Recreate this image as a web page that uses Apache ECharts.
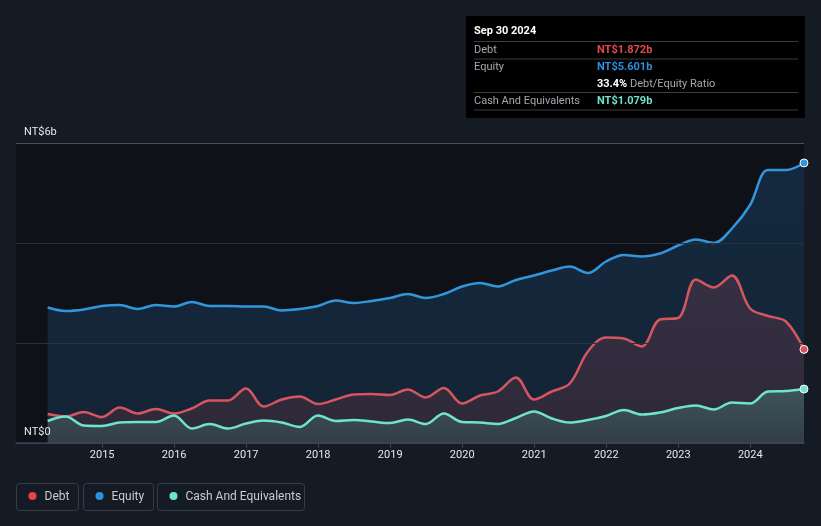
<!DOCTYPE html>
<html>
<head>
<meta charset="utf-8">
<script src="https://cdn.jsdelivr.net/npm/echarts@6/dist/echarts.min.js"></script>
<style>
  html, body { margin: 0; padding: 0; background: #151b25; }
  #chart_01 { width: 821px; height: 526px; }
</style>
</head>
<body>
<div id="chart_01"></div>
<script>
// quarter ends, Mar 2014 .. Sep 2024
var quarterEnds = [];
(function () {
    var md = ['-03-31', '-06-30', '-09-30', '-12-31'];
    for (var y = 2014; y <= 2024; y++) {
        for (var q = 0; q < 4; q++) {
            if (y === 2024 && q > 2) break;
            quarterEnds.push(y + md[q]);
        }
    }
})();

// NT$ billions
var debt = [0.58, 0.53, 0.62, 0.52, 0.71, 0.59, 0.68, 0.59, 0.69, 0.85, 0.85, 1.09, 0.73, 0.87, 0.93,
    0.78, 0.87, 0.97, 0.98, 0.96, 1.07, 0.91, 1.10, 0.79, 0.95, 1.03, 1.31, 0.87, 1.03, 1.19,
    1.83, 2.11, 2.09, 1.93, 2.47, 2.50, 3.27, 3.11, 3.35, 2.69, 2.54, 2.43, 1.872];
var equity = [2.71, 2.64, 2.67, 2.74, 2.76, 2.68, 2.76, 2.73, 2.82, 2.74, 2.74, 2.73, 2.73, 2.65, 2.68,
    2.74, 2.85, 2.80, 2.84, 2.90, 2.98, 2.90, 2.98, 3.13, 3.20, 3.13, 3.26, 3.35, 3.45, 3.53,
    3.40, 3.63, 3.76, 3.73, 3.79, 3.95, 4.07, 4.00, 4.29, 4.76, 5.46, 5.46, 5.601];
var cash = [0.44, 0.53, 0.35, 0.34, 0.41, 0.42, 0.42, 0.55, 0.29, 0.38, 0.29, 0.39, 0.45, 0.41, 0.32,
    0.55, 0.44, 0.46, 0.43, 0.40, 0.47, 0.38, 0.59, 0.42, 0.41, 0.38, 0.50, 0.63, 0.49, 0.41,
    0.46, 0.54, 0.66, 0.57, 0.61, 0.70, 0.75, 0.67, 0.81, 0.79, 1.03, 1.04, 1.079];
var yearTicks = [2015, 2016, 2017, 2018, 2019, 2020, 2021, 2022, 2023, 2024];

;(function (window) {

    initChart();

    function decYear(s) {
        var d = new Date(s + 'T00:00:00Z');
        var y = d.getUTCFullYear();
        var start = Date.UTC(y, 0, 1), end = Date.UTC(y + 1, 0, 1);
        return y + (d.getTime() - start) / (end - start);
    }

    function pairs(vals, color) {
        return vals.map(function (v, i) {
            var item = { value: [decYear(quarterEnds[i]), v] };
            if (i === vals.length - 1) {
                item.symbol = 'circle';
                item.symbolSize = 8;
                item.itemStyle = { color: color, borderColor: '#ffffff', borderWidth: 1 };
            }
            return item;
        });
    }

    function makeSeries(name, vals, color, areaTop, areaBottom) {
        return {
            name: name,
            type: 'line',
            data: pairs(vals, color),
            smooth: 0.35,
            symbol: 'none',
            showSymbol: true,
            lineStyle: { color: color, width: 2.5 },
            itemStyle: { color: color },
            areaStyle: {
                color: new echarts.graphic.LinearGradient(0, 0, 0, 1, [
                    { offset: 0, color: areaTop },
                    { offset: 1, color: areaBottom }
                ])
            },
            z: 2
        };
    }

    function legendBox(x, w, color, label) {
        return {
            type: 'group',
            left: x, top: 483,
            children: [
                { type: 'rect', shape: { x: 0, y: 0, width: w, height: 27, r: 3 },
                  style: { fill: 'transparent', stroke: '#363d49', lineWidth: 1 } },
                { type: 'circle', shape: { cx: 16, cy: 12.5, r: 4 }, style: { fill: color } },
                { type: 'text', x: 28, y: 13,
                  style: { text: label, fill: '#c8ccd2', font: '12px Roboto', verticalAlign: 'middle' } }
            ]
        };
    }

    function row(y, label, value, color, line) {
        var arr = [];
        if (label) arr.push({ type: 'text', x: 474, y: y,
            style: { text: label, fill: '#a4a8ae', font: '11px Roboto', verticalAlign: 'middle' } });
        arr.push({ type: 'text', x: 597, y: y,
            style: { text: value, fill: color, font: 'bold 11px Roboto', verticalAlign: 'middle' } });
        if (line) arr.push({ type: 'line', shape: { x1: 474, y1: y + 9, x2: 798, y2: y + 9 },
            style: { stroke: '#3a3d42', lineWidth: 1 } });
        return arr;
    }

    function initChart() {
        var myChart_01 = echarts.init(document.getElementById('chart_01'));

        var tip = [
            { type: 'rect', shape: { x: 466, y: 16, width: 339, height: 102 }, style: { fill: '#000000' } },
            { type: 'text', x: 474, y: 31,
              style: { text: 'Sep 30 2024', fill: '#ffffff', font: 'bold 11px Roboto', verticalAlign: 'middle' } },
            { type: 'line', shape: { x1: 474, y1: 41.5, x2: 798, y2: 41.5 }, style: { stroke: '#3a3d42', lineWidth: 1 } }
        ];
        tip = tip.concat(row(50, 'Debt', 'NT$1.872b', '#e5484d', true));
        tip = tip.concat(row(67, 'Equity', 'NT$5.601b', '#2d8fe0', false));
        tip.push({ type: 'text', x: 597, y: 84,
            style: { text: '{b|33.4%} Debt/Equity Ratio', fill: '#a4a8ae', font: '11px Roboto', verticalAlign: 'middle',
                rich: { b: { fill: '#ffffff', font: 'bold 11px Roboto' } } } });
        tip.push({ type: 'line', shape: { x1: 474, y1: 92.5, x2: 798, y2: 92.5 }, style: { stroke: '#3a3d42', lineWidth: 1 } });
        tip = tip.concat(row(101, 'Cash And Equivalents', 'NT$1.079b', '#6ee3cf', true));

        var options = {
            backgroundColor: '#151b25',
            animation: false,
            grid: {
                left: 16, right: 17, top: 143, bottom: 83,
                show: true, borderWidth: 0,
                backgroundColor: '#0e1218'
            },
            xAxis: {
                type: 'value',
                min: 2013.804,
                max: 2024.746,
                axisLine: { show: true, lineStyle: { color: '#3a414c', width: 1.5 } },
                axisTick: { show: true, customValues: yearTicks, length: 5, lineStyle: { color: '#3a414c' } },
                splitLine: { show: false },
                axisLabel: {
                    customValues: yearTicks,
                    color: '#e6e8eb', fontSize: 11, fontFamily: 'Roboto', margin: 7,
                    formatter: function (v) { return String(Math.round(v)); }
                }
            },
            yAxis: {
                type: 'value',
                min: 0, max: 6, interval: 2,
                axisLine: { show: false },
                axisTick: { show: false },
                splitLine: { lineStyle: { color: ['#3a414c', '#2c323b', '#2c323b', '#4a5058'], width: 1 } },
                axisLabel: {
                    inside: true,
                    margin: 8,
                    verticalAlign: 'bottom',
                    padding: [0, 0, 5, 0],
                    color: '#e6e8eb', fontSize: 11, fontFamily: 'Roboto',
                    formatter: function (v) {
                        if (v === 6) return 'NT$6b';
                        if (v === 0) return 'NT$0';
                        return '';
                    }
                },
                z: 5
            },
            series: [
                makeSeries('Equity', equity, '#3196dc', 'rgba(30,82,132,0.52)', 'rgba(30,66,102,0.52)'),
                makeSeries('Debt', debt, '#d6565f', 'rgba(100,58,77,0.6)', 'rgba(82,49,62,0.6)'),
                makeSeries('Cash And Equivalents', cash, '#6ee3cf', 'rgba(77,142,134,0.6)', 'rgba(58,89,92,0.6)')
            ],
            graphic: tip.concat([
                legendBox(16, 62, '#e64545', 'Debt'),
                legendBox(83, 70, '#2d8fe0', 'Equity'),
                legendBox(157, 147, '#6ee3cf', 'Cash And Equivalents')
            ])
        };

        myChart_01.setOption(options);
    }

}(window));
</script>
</body>
</html>
